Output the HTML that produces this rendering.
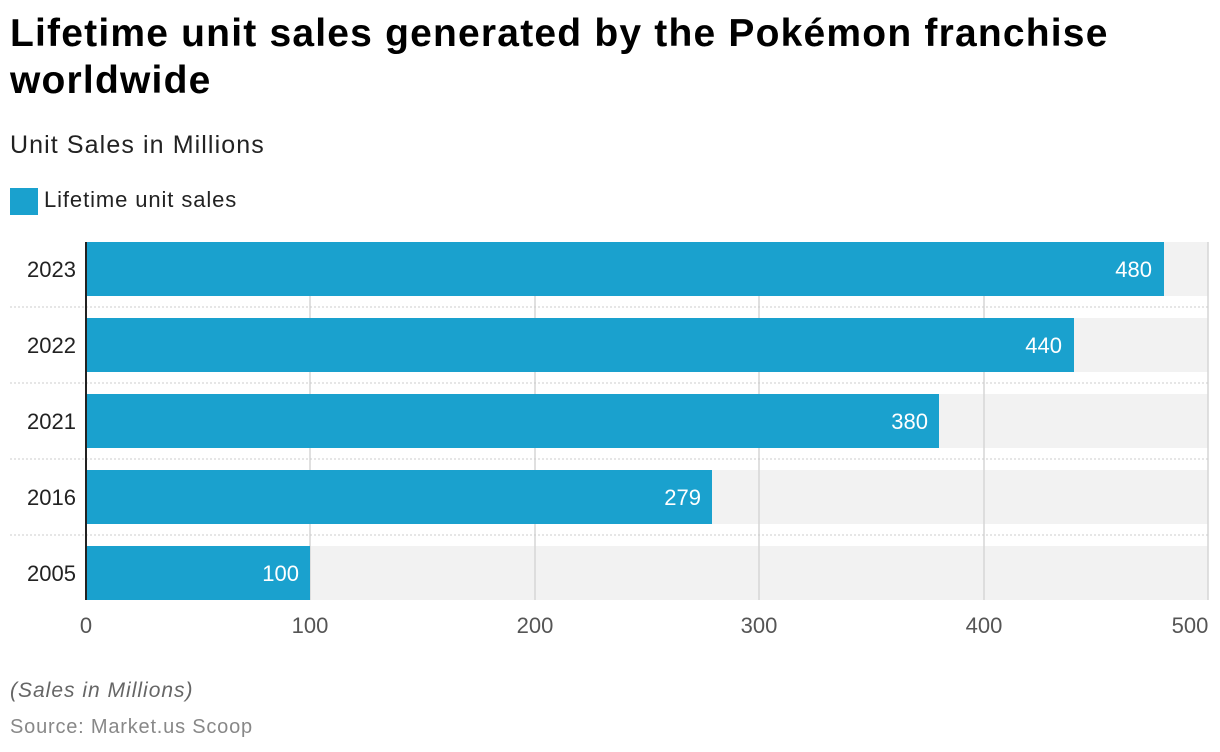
<!DOCTYPE html>
<html><head><meta charset="utf-8"><style>
body{margin:0;width:1220px;height:752px;background:#fff;font-family:"Liberation Sans",Arial,sans-serif;overflow:hidden;position:relative}
.t{position:absolute;left:10px;top:10px;font-size:39px;font-weight:bold;line-height:47px;color:#000;letter-spacing:1.2px}
</style></head><body>
<div class="t">Lifetime unit sales generated by the Pokémon franchise<br>worldwide</div>
<div style="position:absolute;left:10px;top:131px;font-size:25px;color:#222;letter-spacing:1.1px">Unit Sales in Millions</div>
<div style="position:absolute;left:10px;top:188px;width:28px;height:27px;background:#1aa1ce"></div>
<div style="position:absolute;left:44px;top:187px;font-size:22px;color:#222;letter-spacing:0.9px">Lifetime unit sales</div>
<svg style="position:absolute;left:0;top:0" width="1220" height="752" font-family="Liberation Sans, Arial, sans-serif">
<g fill="#f2f2f2">
<rect x="86" y="242" width="1122" height="54"/><rect x="86" y="318" width="1122" height="54"/><rect x="86" y="394" width="1122" height="54"/><rect x="86" y="470" width="1122" height="54"/><rect x="86" y="546" width="1122" height="54"/></g>
<g stroke="#d6d6d6" stroke-width="1.5"><line x1="310" y1="242" x2="310" y2="600"/><line x1="535" y1="242" x2="535" y2="600"/><line x1="759" y1="242" x2="759" y2="600"/><line x1="984" y1="242" x2="984" y2="600"/><line x1="1208" y1="242" x2="1208" y2="600"/></g>
<g stroke="#ccc" stroke-dasharray="2,2"><line x1="10" y1="307" x2="1208" y2="307"/><line x1="10" y1="383" x2="1208" y2="383"/><line x1="10" y1="459" x2="1208" y2="459"/><line x1="10" y1="535" x2="1208" y2="535"/></g>
<g fill="#1aa1ce"><rect x="86" y="242" width="1078" height="54"/><rect x="86" y="318" width="988" height="54"/><rect x="86" y="394" width="853" height="54"/><rect x="86" y="470" width="626" height="54"/><rect x="86" y="546" width="224" height="54"/></g>
<line x1="86" y1="242" x2="86" y2="600" stroke="#222" stroke-width="2"/>
<g fill="#fff" font-size="22" text-anchor="end"><text x="1152" y="277">480</text><text x="1062" y="353">440</text><text x="928" y="429">380</text><text x="701" y="505">279</text><text x="299" y="581">100</text></g>
<g fill="#222" font-size="22" text-anchor="end"><text x="76" y="277">2023</text><text x="76" y="353">2022</text><text x="76" y="429">2021</text><text x="76" y="505">2016</text><text x="76" y="581">2005</text></g>
<g fill="#555" font-size="22" text-anchor="middle"><text x="86" y="633">0</text><text x="310" y="633">100</text><text x="535" y="633">200</text><text x="759" y="633">300</text><text x="984" y="633">400</text><text x="1190" y="633">500</text></g>
<text x="10" y="697" font-size="21" font-style="italic" fill="#666" letter-spacing="1">(Sales in Millions)</text>
<text x="10" y="733" font-size="20" fill="#888" letter-spacing="0.8">Source: Market.us Scoop</text>
</svg>
</body></html>
